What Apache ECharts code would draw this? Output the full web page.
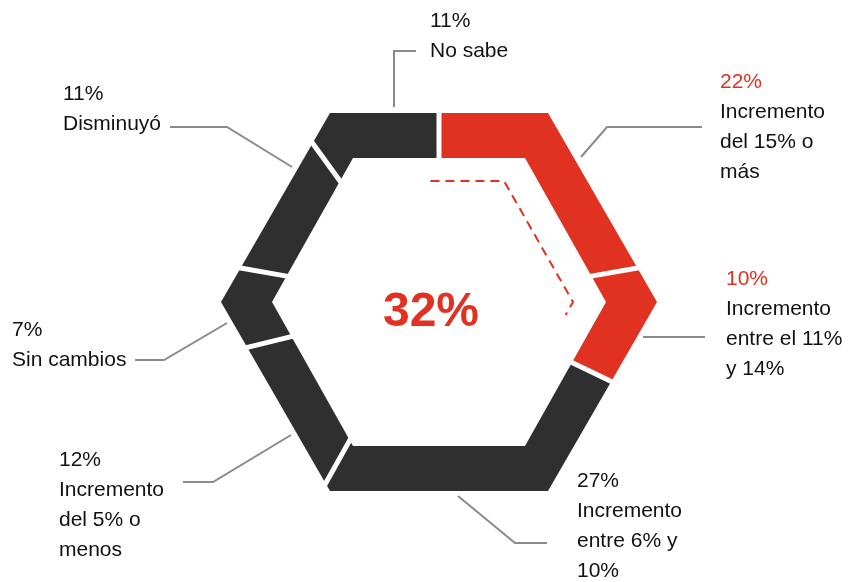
<!DOCTYPE html>
<html>
<head>
<meta charset="utf-8">
<script src="https://cdn.jsdelivr.net/npm/echarts@6/dist/echarts.min.js"></script>
<style>
html,body{margin:0;padding:0;background:#fff;}
#chart{width:862px;height:582px;}
</style>
</head>
<body>
<div id="chart"></div>
<script>
// ---- data ----
const CATEGORIES = [
  'Incremento\ndel 15% o\nmás',
  'Incremento\nentre el 11%\ny 14%',
  'Incremento\nentre 6% y\n10%',
  'Incremento\ndel 5% o\nmenos',
  'Sin cambios',
  'Disminuyó',
  'No sabe'
];
const VALUES = [22, 10, 27, 12, 7, 11, 11];
const HIGHLIGHT = [true, true, false, false, false, false, false];

// ---- layout / style ----
const CX = 439, CY = 302;
const OUTER = {R: 218, a: 109, h: 189};
const INNER = {R: 167, a: 86, h: 144};
const BRACKET = {R: 134, a: 65, h: 121, from: -0.011, to: 0.268};
const RED = '#E03121', DARK = '#2F2F2F', GRAY = '#8A8A8A', TEXT = '#111111';
const FONT = '"Liberation Sans", Arial, Helvetica, sans-serif';
const LABEL_POS = [[720, 67], [726, 264], [577, 466], [59, 445], [12, 315], [63, 79], [430, 6]];
const LEADERS = [
  [[581, 157], [607, 127], [702, 127]],
  [[643, 337], [705, 337]],
  [[458, 496], [515, 543], [547, 543]],
  [[291, 435], [213, 482], [183, 482]],
  [[227, 323], [164, 360], [135, 360]],
  [[292, 167], [227, 127], [170, 127]],
  [[394, 107], [394, 51], [416, 51]]
];

const TOTAL = VALUES.reduce((s, v) => s + v, 0);
const CUM = [];
VALUES.reduce((s, v, i) => { CUM[i] = s; return s + v; }, 0);
const HIGHLIGHT_SUM = VALUES.reduce((s, v, i) => s + (HIGHLIGHT[i] ? v : 0), 0);

const T = [0, 1/12, 3/12, 5/12, 7/12, 9/12, 11/12, 1];
function verts(g) {
  return [[0, -g.h], [g.a, -g.h], [g.R, 0], [g.a, g.h], [-g.a, g.h], [-g.R, 0], [-g.a, -g.h], [0, -g.h]];
}
function hexPoint(t, g) {
  t = ((t % 1) + 1) % 1;
  const V = verts(g);
  for (let k = 0; k < 7; k++) {
    if (t >= T[k] && t <= T[k + 1]) {
      const f = (t - T[k]) / (T[k + 1] - T[k]);
      return [CX + V[k][0] + (V[k + 1][0] - V[k][0]) * f, CY + V[k][1] + (V[k + 1][1] - V[k][1]) * f];
    }
  }
  return [CX, CY - g.h];
}
function hexPath(t0, t1, g) {
  const V = verts(g);
  const pts = [hexPoint(t0, g)];
  for (let k = 1; k < 7; k++) {
    if (T[k] > t0 && T[k] < t1) pts.push([CX + V[k][0], CY + V[k][1]]);
  }
  pts.push(hexPoint(t1, g));
  return pts;
}
function bracketPath(t0, t1, g) {
  // allow slightly negative start on the top edge
  const pts = [];
  if (t0 < 0) { pts.push(hexPoint(t0, g)); t0 = 0; }
  return pts.concat(hexPath(t0, t1, g));
}

function renderItem(params, api) {
  const i = params.dataIndex;
  const v = api.value(0);
  const t0 = CUM[i] / TOTAL, t1 = (CUM[i] + v) / TOTAL;
  const outer = hexPath(t0, t1, OUTER);
  const inner = hexPath(t0, t1, INNER).reverse();
  const fill = HIGHLIGHT[i] ? RED : DARK;
  const children = [];
  children.push({type: 'polygon', z2: 1, shape: {points: outer.concat(inner)}, style: {fill: fill}});
  // gap at start
  const po = hexPoint(t0, OUTER), pi = hexPoint(t0, INNER);
  const dx = po[0] - pi[0], dy = po[1] - pi[1], len = Math.sqrt(dx * dx + dy * dy);
  const ux = dx / len, uy = dy / len;
  children.push({type: 'line', z2: 10, shape: {x1: pi[0] - ux * 3, y1: pi[1] - uy * 3, x2: po[0] + ux * 3, y2: po[1] + uy * 3},
    style: {stroke: '#fff', lineWidth: 5}});
  // leader
  children.push({type: 'polyline', z2: 5, shape: {points: LEADERS[i]}, style: {stroke: GRAY, lineWidth: 2, fill: null}});
  // labels
  const pos = LABEL_POS[i];
  children.push({type: 'text', z2: 5, x: pos[0], y: pos[1], style: {
    text: v + '%', fill: HIGHLIGHT[i] ? RED : TEXT, font: '21px ' + FONT, lineHeight: 30,
    align: 'left', verticalAlign: 'top'}});
  children.push({type: 'text', z2: 5, x: pos[0], y: pos[1] + 30, style: {
    text: CATEGORIES[i], fill: TEXT, font: '21px ' + FONT, lineHeight: 30,
    align: 'left', verticalAlign: 'top'}});
  return {type: 'group', children: children};
}

const chart = echarts.init(document.getElementById('chart'), null, {renderer: 'canvas'});
chart.setOption({
  animation: false,
  backgroundColor: '#fff',
  graphic: [
    {type: 'polyline', shape: {points: bracketPath(BRACKET.from, BRACKET.to, BRACKET)},
      style: {stroke: RED, lineWidth: 2, lineDash: [9, 6], fill: null}},
    {type: 'text', x: 431, y: 313, style: {text: HIGHLIGHT_SUM + '%', fill: RED,
      font: 'bold 48px ' + FONT, align: 'center', verticalAlign: 'middle'}}
  ],
  series: [{
    type: 'custom',
    coordinateSystem: 'none',
    renderItem: renderItem,
    data: VALUES.map((v, i) => ({value: [v], name: CATEGORIES[i]}))
  }]
});
</script>
</body>
</html>
